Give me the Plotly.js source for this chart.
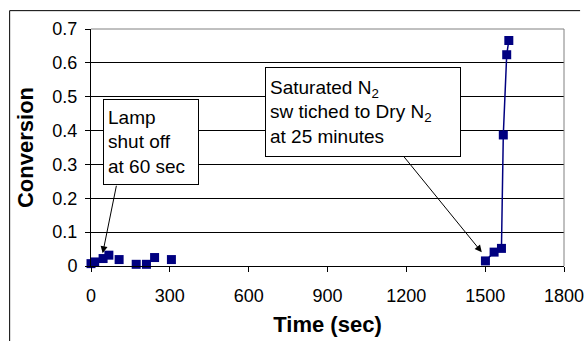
<!DOCTYPE html>
<html>
<head>
<meta charset="utf-8">
<script src="https://cdn.plot.ly/plotly-3.0.1.min.js"></script>
<style>html,body{margin:0;padding:0;background:#fff;}#chart{width:587px;height:341px;}</style>
</head>
<body>
<div id="chart"></div>
<script>
// Saturated N2 period (markers only)
const timeWet = [0, 14, 46, 68, 107, 172, 211, 242, 306];
const convWet = [0.007, 0.012, 0.022, 0.032, 0.019, 0.005, 0.005, 0.025, 0.019];
// After switch to dry N2 (line + markers)
const timeDry = [1501, 1534, 1562, 1569, 1582, 1590];
const convDry = [0.015, 0.041, 0.052, 0.387, 0.624, 0.666];

const xTicks = [0, 300, 600, 900, 1200, 1500, 1800];
const yTicks = [0, 0.1, 0.2, 0.3, 0.4, 0.5, 0.6, 0.7];
const yTickText = ['0', '0.1', '0.2', '0.3', '0.4', '0.5', '0.6', '0.7'];

const navy = '#000080';
const FONT = '"Liberation Sans", Arial, sans-serif';

const traces = [
  {x: timeWet, y: convWet, type: 'scatter', mode: 'markers',
   marker: {symbol: 'square', size: 9, color: navy, line: {width: 0}},
   cliponaxis: false, showlegend: false},
  {x: timeDry, y: convDry, type: 'scatter', mode: 'lines+markers',
   line: {color: navy, width: 1.5},
   marker: {symbol: 'square', size: 9, color: navy, line: {width: 0}},
   cliponaxis: false, showlegend: false}
];

const layout = {
  width: 587, height: 341,
  margin: {l: 91, r: 23, t: 29, b: 75},
  paper_bgcolor: '#fff', plot_bgcolor: '#fff',
  font: {family: FONT, color: '#000', size: 17},
  showlegend: false,
  xaxis: {
    range: [0, 1800], tickvals: xTicks, ticktext: xTicks.map(String),
    showgrid: false, zeroline: false,
    showline: true, linecolor: '#000', linewidth: 1,
    ticks: 'outside', ticklen: 5, tickcolor: '#000', tickwidth: 1,
    ticklabelstandoff: 8,
    tickfont: {size: 18, family: FONT},
    title: {text: '<b>Time (sec)</b>', font: {size: 22, family: FONT}, standoff: 12},
    automargin: false, fixedrange: true
  },
  yaxis: {
    range: [0, 0.7], tickvals: yTicks, ticktext: yTickText,
    showgrid: true, gridcolor: '#000', gridwidth: 1, zeroline: false,
    showline: true, linecolor: '#000', linewidth: 1,
    ticks: 'outside', ticklen: 5, tickcolor: '#000', tickwidth: 1,
    ticklabelstandoff: 4,
    tickfont: {size: 18, family: FONT},
    title: {text: '<b>Conversion</b>', font: {size: 22, family: FONT}, standoff: 12},
    automargin: false, fixedrange: true
  },
  shapes: [
    {type: 'line', xref: 'paper', yref: 'paper', x0: 0, x1: 1, y0: 1, y1: 1,
     line: {color: '#808080', width: 1}},
    {type: 'line', xref: 'paper', yref: 'paper', x0: 1, x1: 1, y0: 0, y1: 1,
     line: {color: '#808080', width: 1}},
    {type: 'line', xref: 'paper', yref: 'paper', x0: -0.172, x1: 1.034, y0: 1.0774, y1: 1.0774,
     line: {color: '#000', width: 1}},
    {type: 'line', xref: 'paper', yref: 'paper', x0: -0.172, x1: -0.172, y0: 1.0774, y1: -0.4,
     line: {color: '#000', width: 1}}
  ],
  annotations: [
    {xref: 'paper', yref: 'paper', x: 0.0248, y: 0.705, xanchor: 'left', yanchor: 'top',
     text: 'Lamp<br>shut off<br>at 60 sec', align: 'left', valign: 'middle',
     showarrow: false, bgcolor: '#fff', bordercolor: '#000', borderwidth: 1, borderpad: 4,
     width: 86, height: 76, font: {size: 19, family: FONT, color: '#000'}},
    {xref: 'paper', yref: 'paper', x: 0.3675, y: 0.8405, xanchor: 'left', yanchor: 'top',
     text: 'Saturated N<sub>2</sub><br>sw tiched to Dry N<sub>2</sub><br>at 25 minutes', align: 'left', valign: 'middle',
     showarrow: false, bgcolor: '#fff', bordercolor: '#000', borderwidth: 1, borderpad: 4,
     width: 186, height: 80, font: {size: 19, family: FONT, color: '#000'}},
    {x: 44.5, y: 0.0376, xref: 'x', yref: 'y', ax: 14, ay: -69, text: '',
     showarrow: true, arrowhead: 2, arrowsize: 1.4, arrowwidth: 1, arrowcolor: '#000'},
    {x: 1487, y: 0.0406, xref: 'x', yref: 'y', ax: -79, ay: -97, text: '',
     showarrow: true, arrowhead: 2, arrowsize: 1.4, arrowwidth: 1, arrowcolor: '#000'}
  ]
};

Plotly.newPlot('chart', traces, layout, {displayModeBar: false, staticPlot: true});
</script>
</body>
</html>
